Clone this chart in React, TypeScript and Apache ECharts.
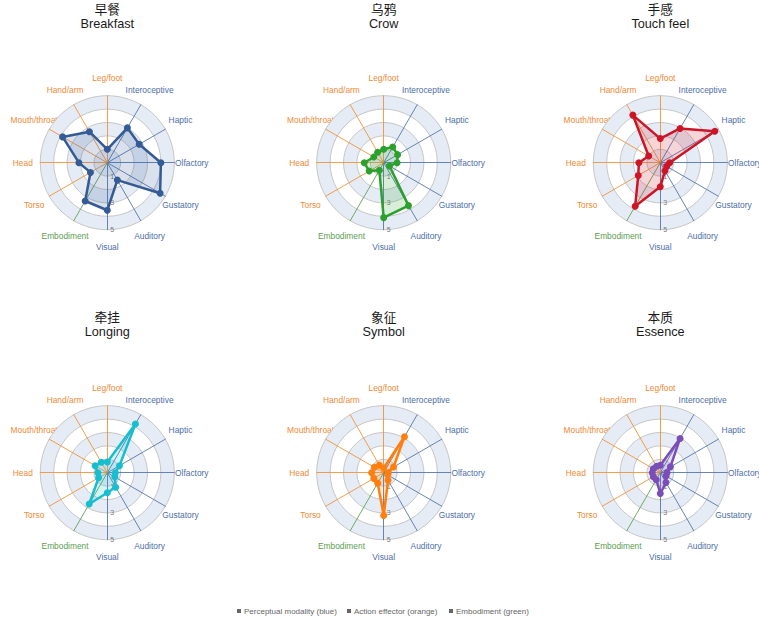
import React, { useEffect, useRef } from 'react';
import * as echarts from 'echarts';

// ---- data ----
const INDICATORS = ['Visual', 'Auditory', 'Gustatory', 'Olfactory', 'Haptic', 'Interoceptive', 'Leg/foot', 'Hand/arm', 'Mouth/throat', 'Head', 'Torso', 'Embodiment'];
const GROUPS = ['p', 'p', 'p', 'p', 'p', 'p', 'a', 'a', 'a', 'a', 'a', 'e'];
const MAX_VALUE = 5;
const TICK_LABELS = ['1', '3', '5'];

const TITLES_ZH = ['早餐', '乌鸦', '手感', '牵挂', '象征', '本质'];
const TITLES_EN = ['Breakfast', 'Crow', 'Touch feel', 'Longing', 'Symbol', 'Essence'];

const breakfast = [3.55, 1.5, 4.55, 4.0, 2.75, 3.0, 1.0, 2.67, 3.85, 2.12, 1.45, 3.3];
const crow = [4.1, 3.7, 0.5, 1.0, 1.2, 1.35, 1.0, 0.9, 0.85, 1.45, 1.25, 0.65];
const touchFeel = [1.8, 0.7, 0.55, 0.7, 4.7, 2.95, 1.8, 4.1, 1.0, 1.6, 1.9, 3.75];
const longing = [1.5, 1.25, 0.65, 0.6, 1.05, 4.2, 0.8, 0.9, 1.05, 0.7, 0.75, 2.7];
const symbol = [3.2, 0.65, 0.35, 0.35, 0.85, 3.1, 0.35, 0.65, 0.8, 0.9, 0.85, 0.9];
const essence = [1.55, 0.85, 0.5, 0.5, 0.87, 2.95, 0.55, 0.55, 0.6, 0.6, 0.6, 0.6];
const SERIES_VALUES = [breakfast, crow, touchFeel, longing, symbol, essence];

const LEGEND_LABELS = ['Perceptual modality (blue)', 'Action effector (orange)', 'Embodiment (green)'];

// ---- styles / layout ----
const SERIES_COLORS = ['#345b95', '#2ca02c', '#cc1628', '#17becf', '#ff7f0e', '#7b4db8'];
const GROUP_LINE: Record<string, string> = { p: 'rgba(78,112,168,0.85)', a: 'rgba(242,142,43,0.85)', e: 'rgba(96,162,84,0.9)' };
const GROUP_TEXT: Record<string, string> = { p: '#4d6ea8', a: '#f08a36', e: '#5c9e4f' };
const CX = [107.3, 383.7, 660.3];
const CY = [162.7, 472.7];
const R = 67;
const NAME_R = 84.5;
const FONT = '"Liberation Sans", Arial, "Noto Sans CJK SC", sans-serif';

export default function App() {
  const ref = useRef<HTMLDivElement>(null);
  useEffect(() => {
    document.body.style.margin = '0';
    const chart = echarts.init(ref.current!, null, { renderer: 'svg' });
    const radars: any[] = [];
    const series: any[] = [];
    const titles: any[] = [];
    const graphics: any[] = [];
    SERIES_VALUES.forEach((vals, k) => {
      const cx = CX[k % 3];
      const cy = CY[Math.floor(k / 3)];
      radars.push({
        center: [cx, cy],
        radius: R,
        startAngle: -90,
        splitNumber: 5,
        shape: 'circle',
        axisName: { show: false },
        indicator: INDICATORS.map((n, i) => {
          const ind: any = {
            name: n,
            min: 0,
            max: MAX_VALUE,
            axisLine: { show: true, lineStyle: { color: GROUP_LINE[GROUPS[i]], width: 1 } },
          };
          if (i === 0) {
            ind.axisLabel = {
              show: true,
              color: '#7a7a7a',
              fontSize: 7,
              fontFamily: FONT,
              margin: 3,
              padding: [0, 0, 5, 0],
              formatter: (v: number) => (TICK_LABELS.indexOf(String(v)) >= 0 ? String(v) : ''),
            };
          }
          return ind;
        }),
        splitLine: { lineStyle: { color: '#c6c6c6', width: 1 } },
        splitArea: { show: true, areaStyle: { color: ['#e6ecf6', '#ffffff'] } },
        axisTick: { show: false },
        axisLabel: { show: false },
      });
      series.push({
        type: 'radar',
        radarIndex: k,
        symbol: 'circle',
        symbolSize: 7,
        lineStyle: { width: 2.5, color: SERIES_COLORS[k] },
        itemStyle: { color: SERIES_COLORS[k] },
        areaStyle: { color: SERIES_COLORS[k], opacity: 0.18 },
        data: [{ value: vals, name: TITLES_EN[k] }],
      });
      titles.push({
        text: TITLES_ZH[k] + '\n' + TITLES_EN[k],
        left: cx,
        top: Math.floor(k / 3) === 0 ? 3 : 311,
        padding: 0,
        textAlign: 'center',
        textStyle: { fontSize: 12.7, fontWeight: 'normal', color: '#1a1a1a', fontFamily: FONT, lineHeight: 14 },
      });
      INDICATORS.forEach((n, i) => {
        const a = ((-90 + 30 * i) * Math.PI) / 180;
        graphics.push({
          type: 'text',
          x: cx + NAME_R * Math.cos(a),
          y: cy - NAME_R * Math.sin(a),
          style: {
            text: n,
            fill: GROUP_TEXT[GROUPS[i]],
            fontSize: 8.4,
            fontFamily: FONT,
            align: 'center',
            verticalAlign: 'middle',
          },
        });
      });
    });
    // legend
    const legendX = [237, 347, 449];
    LEGEND_LABELS.forEach((t, i) => {
      graphics.push({ type: 'rect', shape: { x: legendX[i], y: 609, width: 4, height: 4 }, style: { fill: '#666' } });
      graphics.push({
        type: 'text',
        x: legendX[i] + 7,
        y: 611,
        style: { text: t, fill: '#666', fontSize: 8, fontFamily: FONT, align: 'left', verticalAlign: 'middle' },
      });
    });
    chart.setOption({
      animation: false,
      backgroundColor: '#ffffff',
      title: titles,
      radar: radars,
      series,
      graphic: graphics,
    });
    return () => chart.dispose();
  }, []);
  return <div ref={ref} style={{ position: 'absolute', left: 0, top: 0, width: 759, height: 622 }} />;
}
